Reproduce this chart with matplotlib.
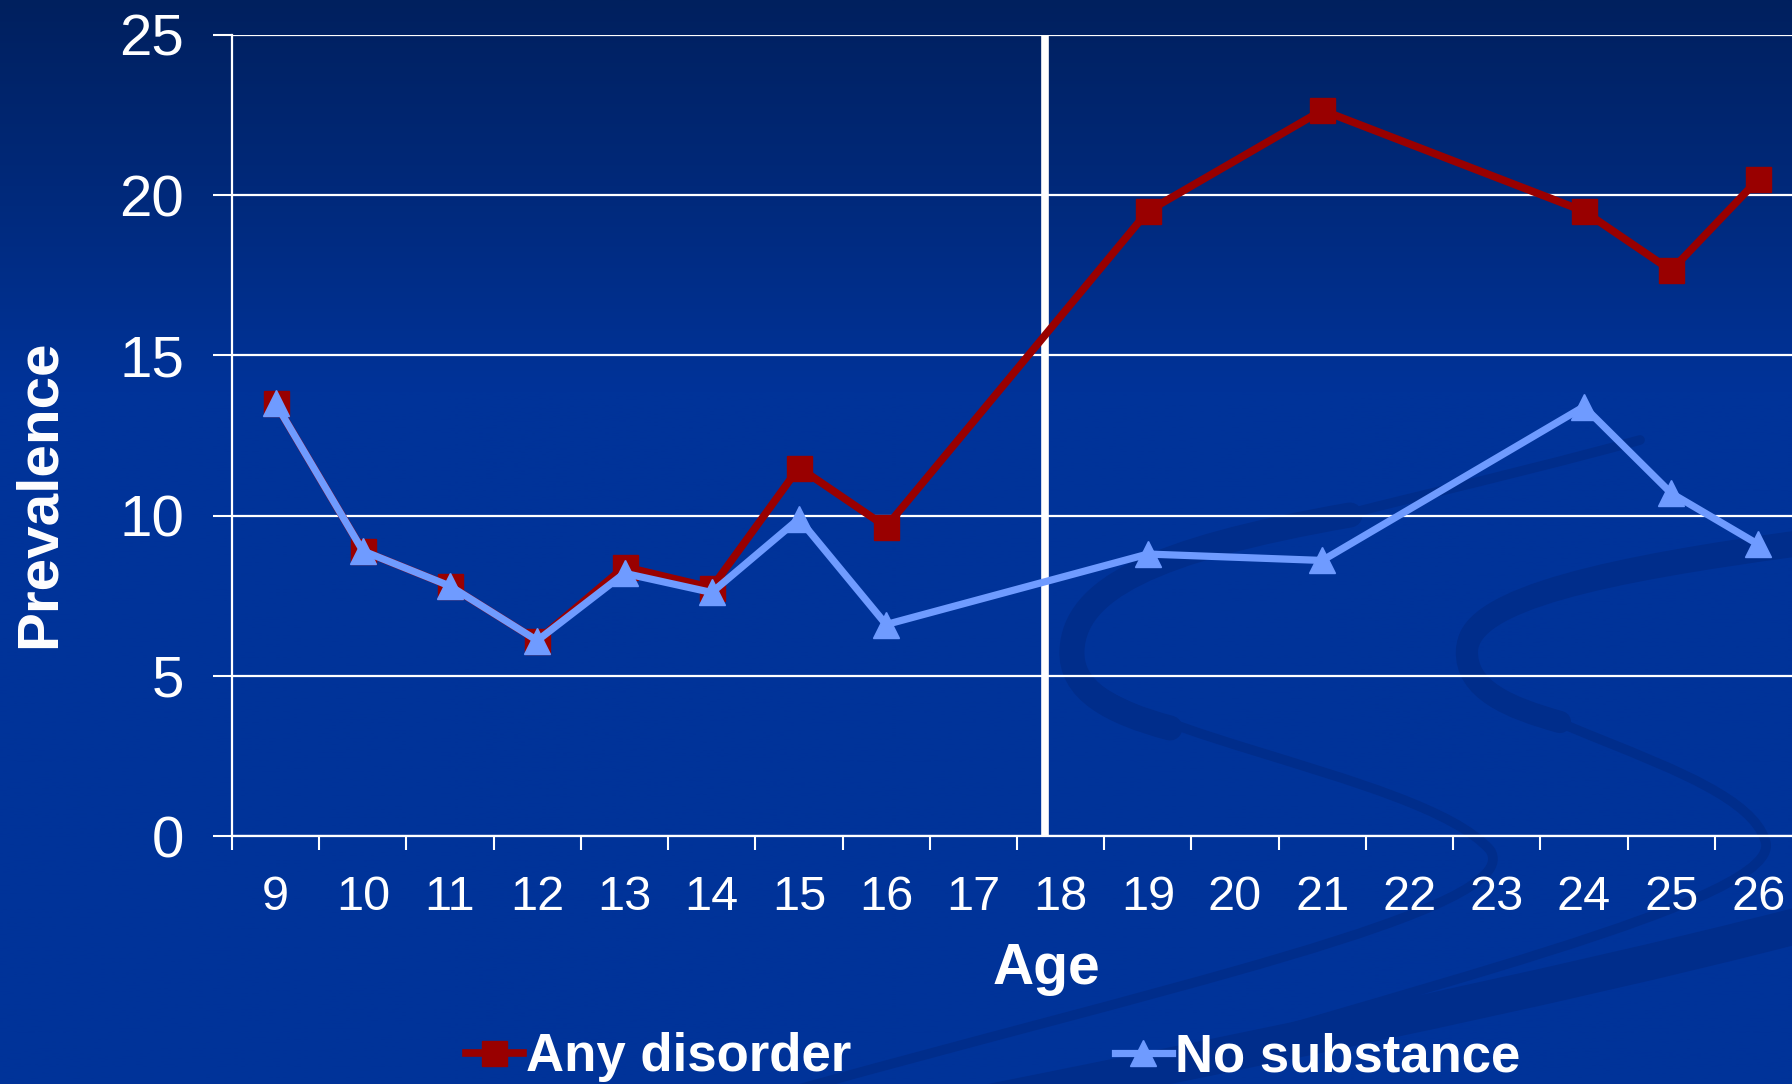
import numpy as np
import matplotlib
matplotlib.use("Agg")
import matplotlib.pyplot as plt
from matplotlib.path import Path
from matplotlib.patches import PathPatch
from matplotlib.lines import Line2D

plt.rcParams['font.family'] = ['Liberation Sans', 'DejaVu Sans']

# ---- data ----
ages = [9, 10, 11, 12, 13, 14, 15, 16, 17, 18, 19, 20, 21, 22, 23, 24, 25, 26]
any_disorder = [13.5, 8.9, 7.8, 6.1, 8.4, 7.75, 11.5, 9.65, None, None, 19.5, None, 22.65, None, None, 19.5, 17.65, 20.5]
no_substance = [13.5, 8.9, 7.8, 6.1, 8.2, 7.6, 9.9, 6.6, None, None, 8.8, None, 8.6, None, None, 13.4, 10.7, 9.1]
yticks = [0, 5, 10, 15, 20, 25]
series_names = ["Any disorder", "No substance"]
cutoff_position = 8.82  # vertical marker line (in category index units)

RED = "#990000"
BLUE = "#6f9bff"
W, H = 1792, 1084
fig = plt.figure(figsize=(W / 100, H / 100), dpi=100)

# ---- background gradient + decorative swooshes ----
bg = fig.add_axes([0, 0, 1, 1], zorder=0)
top = np.array([0x00, 0x20, 0x5e]) / 255
mid = np.array([0x00, 0x33, 0x99]) / 255
t = np.clip(np.linspace(0, 1, 400) / 0.36, 0, 1)[:, None]
grad = top[None, :] * (1 - t) + mid[None, :] * t
img = np.repeat(grad[:, None, :], 2, axis=1)
bg.imshow(img, extent=[0, W, H, 0], aspect='auto')
bg.set_xlim(0, W)
bg.set_ylim(H, 0)
bg.axis('off')

swoosh_col = "#002d8b"
def stroke(pts, lw):
    codes = [Path.MOVETO] + [Path.CURVE4] * (len(pts) - 1)
    bg.add_patch(PathPatch(Path(pts, codes), fill=False, edgecolor=swoosh_col, lw=lw,
                           capstyle='round'))

# ribbon A
stroke([(1640, 440), (1350, 520), (1070, 560), (1068, 650),
        (1066, 730), (1420, 770), (1490, 850),
        (1530, 910), (1150, 990), (760, 1100)], 7)
stroke([(1350, 515), (1150, 550), (1075, 590), (1072, 650),
        (1070, 690), (1110, 712), (1170, 728)], 18)
# ribbon B
stroke([(1800, 535), (1620, 560), (1465, 590), (1462, 645),
        (1460, 720), (1740, 760), (1765, 840),
        (1790, 900), (1400, 990), (1050, 1100)], 7)
stroke([(1800, 545), (1600, 572), (1470, 600), (1467, 650),
        (1465, 690), (1510, 708), (1560, 722)], 16)
# lower band
stroke([(1800, 925), (1550, 990), (1200, 1060), (950, 1110),
        (950, 1110), (950, 1110), (950, 1110)], 26)

# ---- main axes ----
ax = fig.add_axes([232 / W, (H - 836) / H, 1570 / W, (836 - 35) / H], zorder=2)
ax.patch.set_alpha(0)
x = np.arange(len(ages))

def pts(vals):
    xs = [i for i, v in enumerate(vals) if v is not None]
    ys = [v for v in vals if v is not None]
    return xs, ys

xr, yr = pts(any_disorder)
xb, yb = pts(no_substance)
ax.plot(xr, yr, color=RED, lw=5.5, marker='s', ms=18, mec=RED, mfc=RED, zorder=4,
        solid_joinstyle='miter')
ax.plot(xb, yb, color=BLUE, lw=5.2, marker='^', ms=19, mec=BLUE, mfc=BLUE, zorder=5,
        solid_joinstyle='miter')

ax.axvline(cutoff_position, color='white', lw=5.5, zorder=3)

ax.set_xlim(-0.5, len(ages) - 0.5)
ax.set_ylim(0, 25)
ax.set_yticks(yticks)
ax.set_yticklabels([str(v) for v in yticks], fontsize=42, color='white')
ax.set_xticks(x)
ax.set_xticklabels([str(a) for a in ages], fontsize=35, color='white')
ax.set_xticks(np.arange(-0.5, len(ages), 1), minor=True)
ax.tick_params(axis='x', which='major', length=0, pad=28)
ax.tick_params(axis='x', which='minor', length=10, width=1.5, color='white', direction='out')
ax.tick_params(axis='y', length=13.5, width=1.5, color='white', pad=21)
ax.grid(axis='y', color='white', lw=1.6, zorder=1)
for side in ['top', 'right']:
    ax.spines[side].set_visible(False)
ax.spines['left'].set_color('white')
ax.spines['left'].set_linewidth(1.6)
ax.spines['bottom'].set_color('white')
ax.spines['bottom'].set_linewidth(1.6)

fig.text(40 / W, 1 - 494 / H, "Prevalence", rotation=90, fontsize=42, fontweight='bold',
         color='white', ha='center', va='center')
fig.text(1046 / W, 1 - 969 / H, "Age", fontsize=41, fontweight='bold',
         color='white', ha='center', va='center')

handles = [Line2D([], [], color=RED, lw=5.5, marker='s', ms=18),
           Line2D([], [], color=BLUE, lw=5.2, marker='^', ms=19)]
leg = fig.legend(handles, series_names, loc='center', bbox_to_anchor=(993 / W, 1 - 1057 / H),
                 ncol=2, frameon=False, fontsize=38, handlelength=1.08, handletextpad=0.06,
                 columnspacing=5.0, borderpad=0, borderaxespad=0)
for txt in leg.get_texts():
    txt.set_color('white')
    txt.set_fontweight('bold')

fig.savefig("out.png", dpi=100)
